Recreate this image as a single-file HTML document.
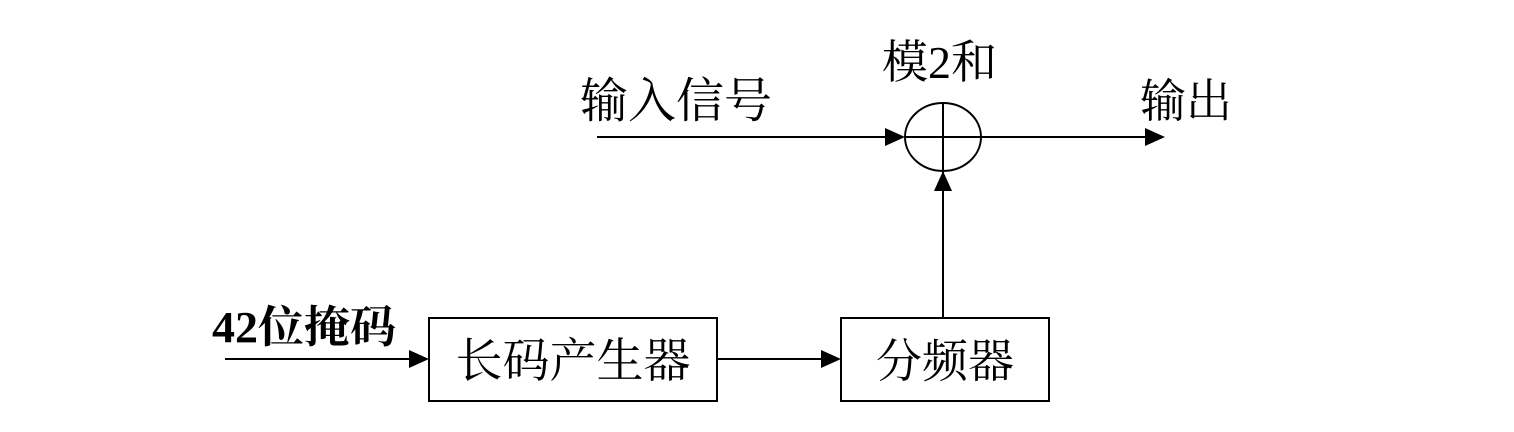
<!DOCTYPE html>
<html><head><meta charset="utf-8"><style>
body{margin:0;background:#fff;}
svg{display:block}
text{font-family:"Liberation Serif","Noto Serif CJK SC","Noto Sans CJK SC",serif;fill:#000}
</style></head><body>
<svg width="1514" height="432" viewBox="0 0 1514 432" xmlns="http://www.w3.org/2000/svg">
<g stroke="#000" stroke-width="2" fill="none">
<line x1="597" y1="137" x2="890" y2="137"/>
<ellipse cx="943" cy="137" rx="38" ry="34"/>
<line x1="943" y1="103" x2="943" y2="318"/>
<line x1="905" y1="137" x2="1148" y2="137"/>
<rect x="429" y="318" width="288" height="83"/>
<rect x="841" y="318" width="208" height="83"/>
<line x1="225" y1="359" x2="414" y2="359"/>
<line x1="717" y1="359" x2="826" y2="359"/>
</g>
<g fill="#000">
<polygon points="905,137 885,128 885,146"/>
<polygon points="1165,137 1145,128 1145,146"/>
<polygon points="943,171 934,191 952,191"/>
<polygon points="429,359 409,350 409,368"/>
<polygon points="841,359 821,350 821,368"/>
</g>
<text x="580" y="117" font-size="48">输入信号</text>
<text x="882" y="78" font-size="46">模2和</text>
<text x="1140" y="117" font-size="46">输出</text>
<text x="212" y="342" font-size="44" font-weight="bold" textLength="184" lengthAdjust="spacingAndGlyphs">42位掩码</text>
<text x="573" y="377" font-size="47" text-anchor="middle">长码产生器</text>
<text x="945" y="377" font-size="46" text-anchor="middle">分频器</text>
</svg>
</body></html>
